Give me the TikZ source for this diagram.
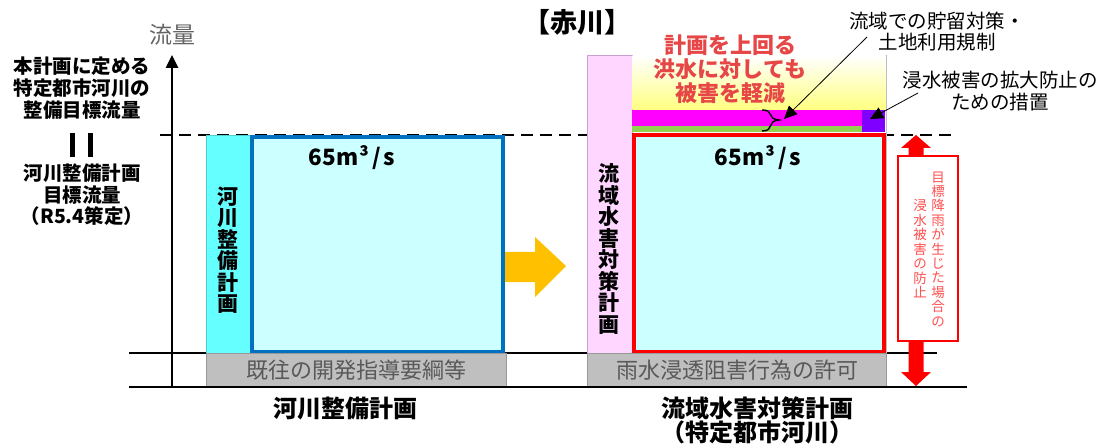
\documentclass[tikz,border=0pt]{standalone}
\usepackage{fontspec}
\setmainfont{Noto Sans CJK JP}
\usetikzlibrary{arrows.meta}
\definecolor{cyanstrip}{RGB}{102,255,255}
\definecolor{lightcyan}{RGB}{204,255,255}
\definecolor{boxblue}{RGB}{0,112,192}
\definecolor{barGray}{RGB}{191,191,191}
\definecolor{barText}{RGB}{89,89,89}
\definecolor{pinkstrip}{RGB}{255,214,255}
\definecolor{pinkedge}{RGB}{200,160,210}
\definecolor{yel}{RGB}{255,255,128}
\definecolor{mag}{RGB}{255,0,255}
\definecolor{grn}{RGB}{146,208,80}
\definecolor{purp}{RGB}{128,0,255}
\definecolor{orng}{RGB}{255,192,0}
\definecolor{redtext}{RGB}{230,70,70}
\definecolor{lightred}{RGB}{255,80,80}
\definecolor{labgray}{RGB}{100,100,100}
\newcommand{\fs}[2]{\fontsize{#1}{#2}\selectfont}
\begin{document}
\begin{tikzpicture}[x=1pt,y=-1pt,
  txt/.style={inner sep=0pt,align=center},
  bigline/.style={line width=2.5pt,black},
  annarrow/.style={line width=0.8pt,-{Triangle[width=12pt,length=13pt]}},
  graybar/.style={fill=barGray,draw=barGray!80!black,line width=0.5pt},
  vtext/.style={txt,font=\bfseries\fs{21}{21.5}}
]
\useasboundingbox (0,0) rectangle (1113,446);

% base lines
\draw[line width=2pt,dash pattern=on 12pt off 7pt] (160,135) -- (957,135);
\draw[bigline] (129,353) -- (937,353);

% axis
\coordinate (axisbot) at (172,387);
\coordinate (axistop) at (172,55);
\draw[line width=2.5pt,-{Triangle[width=12pt,length=13pt]}] (axisbot) -- (axistop);
\node[txt,text=labgray,font=\fs{23}{24}] (flow) at (172,35) {流量};

% left labels
\node[txt,font=\bfseries\fs{19.5}{22}] (lab1) at (82,88) {本計画に定める\\特定都市河川の\\整備目標流量};
\fill (70,133) rectangle (74.5,157);
\fill (88,133) rectangle (92.5,157);
\node[txt,font=\bfseries\fs{19.5}{21.5}] (lab2) at (82,195) {河川整備計画\\目標流量\\（R5.4策定）};

% orange arrow
\fill[orng] (503,252) -- (535,252) -- (535,237) -- (566,266) -- (535,297) -- (535,282) -- (503,282) -- cycle;

% left block
\fill[cyanstrip,draw=cyanstrip!80!black,line width=0.5pt] (206,135) rectangle (251,353);
\draw[fill=lightcyan,draw=boxblue,line width=3.5pt] (252,137) rectangle (503,352);
\draw[graybar] (206,353) rectangle (506,386);
\node[txt,text=barText,font=\fs{22}{22}] (gb1) at (356,370) {既往の開発指導要綱等};
\node[vtext] (v1) at (228,250) {河\\川\\整\\備\\計\\画};
\node[txt,font=\bfseries\fs{22.5}{22}] (q1) at (352,158) {65m\kern1pt³\kern3pt/\kern3pts};

% right block
\draw[draw=barGray,fill=white,line width=0.8pt] (587,55) rectangle (886,353);
\draw[fill=pinkstrip,draw=pinkedge,line width=0.6pt] (587,55) rectangle (632,353);
\shade[top color=white,bottom color=yel] (632.5,55.5) rectangle (885.5,110);
\fill[mag] (632,110) rectangle (862,126);
\fill[grn] (632,126) rectangle (862,132);
\fill[purp] (862,110) rectangle (885,132);
\draw[fill=lightcyan,draw=red,line width=4.5pt] (634,135) rectangle (884,352);
\draw[graybar] (587,353) rectangle (886,386);
\node[txt,text=barText,font=\fs{22}{22}] (gb2) at (737,370) {雨水浸透阻害行為の許可};
\node[vtext] (v2) at (609,249) {流\\域\\水\\害\\対\\策\\計\\画};
\node[txt,font=\bfseries\fs{22.5}{22}] (q2) at (758,158) {65m\kern1pt³\kern3pt/\kern3pts};
\node[txt,text=redtext,font=\bfseries\fs{22}{24}] (red3) at (730,69) {計画を上回る\\洪水に対しても\\被害を軽減};

% brace
\draw[line width=1.4pt] (762,110) .. controls (775,110) and (766,119) .. (779,120)
      .. controls (766,121) and (775,131) .. (762,131);
\coordinate (bracetip) at (784,119);

% title
\node[txt,font=\bfseries\fs{27}{28}] (title) at (577,22) {【赤川】};

% annotations
\node[txt,font=\fs{19.5}{21}] (ann1) at (937,32) {流域での貯留対策・\\土地利用規制};
\coordinate (a1s) at (867,37);
\draw[annarrow] (a1s) -- (bracetip);
\node[txt,font=\fs{19.5}{22}] (ann2) at (1000,91) {浸水被害の拡大防止の\\ための措置};
\coordinate (a2s) at (918,93);
\coordinate (purptip) at (870,119);
\draw[annarrow] (a2s) -- (purptip);

% red double arrow
\fill[red] (916,135) -- (931,148) -- (923.5,148) -- (923.5,372) -- (931,372) -- (916,386)
  -- (901,372) -- (908.5,372) -- (908.5,148) -- (901,148) -- cycle;
\draw[fill=white,draw=red,line width=1.8pt] (898,156) rectangle (958,341);
\node[txt,text=lightred,font=\fs{13.5}{14.4}] (rc1) at (938,249) {目\\標\\降\\雨\\が\\生\\じ\\た\\場\\合\\の};
\node[txt,text=lightred,font=\fs{13.5}{14.5}] (rc2) at (920,249) {浸\\水\\被\\害\\の\\防\\止};

% bottom line and labels
\draw[bigline] (129,387) -- (967,387);
\node[txt,font=\bfseries\fs{24}{24}] (bl1) at (345,408) {河川整備計画};
\node[txt,font=\bfseries\fs{24}{24}] (bl2) at (757,420) {流域水害対策計画\\（特定都市河川）};
\end{tikzpicture}
\end{document}
